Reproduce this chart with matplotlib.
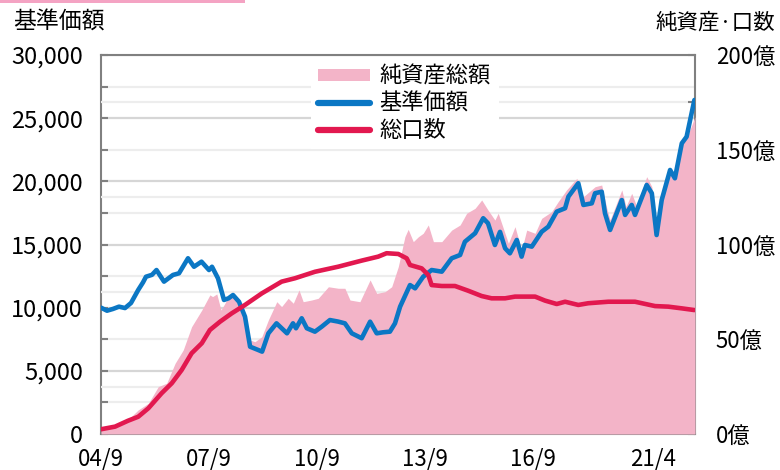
import matplotlib
matplotlib.use('Agg')
import matplotlib.pyplot as plt
from matplotlib.patches import Rectangle
from matplotlib.lines import Line2D
from matplotlib.patches import Patch

plt.rcParams['font.family'] = ['Noto Sans CJK JP', 'DejaVu Sans']

# months since 2004/9
nav_months = [0, 2, 4, 6, 8, 10, 12.4, 14, 15, 17, 18.5, 21, 24, 26, 29, 31, 33.5, 36, 37, 39,
              41, 42.5, 44, 46, 48, 49.7, 52.4, 53.7, 55.8, 58.5, 62, 64, 65, 66.9, 68.6, 71.3,
              73.6, 76.3, 79, 81.3, 83.6, 86.9, 89.7, 91.9, 94, 96.3, 98, 99.7, 103, 104.7,
              107.4, 110.2, 113.6, 116.9, 119.7, 121.3, 124.7, 127.4, 129, 131.3, 133, 134.7,
              136.3, 138.6, 140.2, 141.3, 143.6, 146.9, 149.1, 151.9, 154.7, 155.8, 159.1,
              160.8, 163.6, 164.7, 166.9, 168, 169.7, 173.6, 174.7, 176.9, 178, 181.9, 183.6,
              185.2, 186.9, 189.7, 191.3, 193.6, 195.2, 197.8]
nav_values = [10000, 9760, 9900, 10080, 9970, 10370, 11400, 12000, 12450, 12600, 12980, 12060,
              12590, 12720, 13910, 13240, 13640, 12980, 13240, 12320, 10610, 10740, 11000, 10470,
              9290, 6910, 6650, 6520, 7970, 8760, 7970, 8760, 8370, 9160, 8370, 8100, 8500, 9020,
              8900, 8760, 7970, 7580, 8890, 7970, 8050, 8100, 8760, 10080, 11790, 11530, 12450,
              12980, 12850, 13910, 14170, 15220, 15890, 17080, 16680, 14960, 16000, 14700, 14300,
              15360, 14040, 14960, 14830, 16010, 16410, 17600, 17870, 18790, 19850, 18130, 18260,
              19060, 19180, 17470, 16150, 18520, 17340, 18130, 17340, 19710, 19060, 15750, 18520,
              20900, 20240, 23010, 23530, 26440]

units_months = [0, 4.7, 9, 12.4, 15.8, 20.2, 23.6, 26.9, 30.2, 33.6, 36.3, 39.7, 43.6, 48, 53.6,
                60.2, 64.7, 71.3, 79.1, 86.9, 92.4, 95.2, 99.1, 101.9, 103, 106.9, 109.1, 110.2,
                113.6, 118, 122.4, 126.9, 130.2, 134.7, 138, 144.7, 148, 151.9, 154.7, 159.1,
                162.4, 169.1, 178, 184.7, 189.1, 193.6, 197.8]
units_values = [2.5, 3.9, 7.0, 9.1, 13.6, 21.5, 26.8, 33.8, 42.6, 47.9, 54.9, 59.3, 63.7, 68.1,
                74.2, 80.4, 82.2, 85.6, 88.3, 91.5, 93.6, 95.4, 95.0, 92.7, 89.2, 87.4, 83.9, 78.6,
                78.1, 78.1, 75.6, 72.8, 71.6, 71.6, 72.5, 72.5, 70.4, 68.6, 69.8, 68.1, 69.0,
                69.8, 69.8, 67.5, 67.2, 66.3, 65.4]

assets_months = [0, 4, 8, 12.4, 15.8, 19.1, 21.9, 24.7, 27.4, 30.2, 33.6, 36.3, 37.2, 38.6, 40,
                 41, 41.9, 43.6, 45.2, 47.4, 49.7, 51.3, 53.6, 55.8, 58.6, 60.2, 62.4, 64.1, 66,
                 67.4, 70.2, 72.4, 75.8, 79.1, 81.3, 83, 86.3, 89.7, 91.9, 94.7, 96.9, 99.1,
                 101.3, 102.4, 104.1, 105.8, 107.4, 109.1, 110.8, 113.6, 116.9, 119.7, 121.9,
                 124.7, 126.9, 129, 131.3, 132.4, 135.8, 138, 140.2, 141.9, 144.7, 146.9, 150.2,
                 152.4, 155.2, 158.6, 160.8, 164.7, 166.9, 168.6, 169.7, 173.6, 175, 176.9, 178.6,
                 181.9, 183.6, 185.2, 186.9, 189.1, 191.3, 193.6, 195.2, 198]
assets_values = [2, 3.5, 6, 12.7, 16.2, 25.0, 26.8, 37.3, 44.3, 56.6, 65.4, 73.4, 72.5, 73.9,
                 65.4, 68.1, 70.7, 74.2, 69.8, 62.8, 49.6, 48.7, 51.3, 60.2, 69.8, 67.2, 71.6,
                 69.0, 76.0, 69.8, 70.7, 71.6, 77.7, 76.9, 76.9, 70.7, 69.8, 81.3, 74.2, 75.1,
                 77.7, 88.3, 104.1, 108.0, 101.5, 104.1, 105.9, 110.3, 101.5, 101.5, 107.6, 110.3,
                 116.5, 119.1, 123.5, 118.2, 112.9, 116.5, 100.6, 109.4, 97.1, 107.6, 105.9, 113.8,
                 117.3, 122.6, 128.8, 134.9, 125.2, 130.5, 131.4, 119.1, 112.9, 128.8, 120, 127.0,
                 120, 135.8, 130.5, 107.6, 125.2, 138.4, 135.8, 153.4, 156, 167.4]

tick_months = [0, 36, 72, 108, 144, 184]
tick_labels = ['04/9', '07/9', '10/9', '13/9', '16/9', '21/4']

PINK = '#f3b4c8'
BLUE = '#0b77c4'
RED = '#e2184f'
GRAY = '#808080'

fig = plt.figure(figsize=(7.8, 4.7), dpi=100)
ax = fig.add_axes([101 / 780, 36 / 470, 594 / 780, 379 / 470])

# left scale: grid + ticks
ax.set_xlim(0, 198)
ax.set_ylim(0, 30000)
ax.set_yticks(range(0, 30001, 5000))
ax.set_yticklabels([f'{v:,}' for v in range(0, 30001, 5000)])
ax.set_yticks(range(2500, 30000, 5000), minor=True)
ax.set_xticks(tick_months)
ax.set_xticklabels(tick_labels)
ax.grid(axis='y', which='major', color='#d6d6d6', lw=1.6)
ax.grid(axis='y', which='minor', color='#ededed', lw=1.6)
ax.tick_params(axis='y', which='both', direction='in', length=5, width=1.5, color=GRAY,
               labelsize=17, pad=13)
ax.tick_params(axis='x', length=0, labelsize=16, pad=10)
for s in ax.spines.values():
    s.set_color(GRAY)
    s.set_linewidth(1.5)

# right scale: assets fill
ax2 = ax.twinx()
ax2.set_ylim(0, 200)
ax2.set_yticks(range(0, 201, 50))
ax2.set_yticklabels([f'{v}億' for v in range(0, 201, 50)])
ax2.set_yticks(range(25, 200, 50), minor=True)
ax2.grid(axis='y', which='minor', color='#ededed', lw=1.6)
ax2.set_axisbelow(True)
ax2.tick_params(axis='y', which='both', direction='in', length=5, width=1.5, color=GRAY,
                labelsize=16, pad=15)
for s in ax2.spines.values():
    s.set_visible(False)
ax2.fill_between(assets_months, assets_values, color=PINK, lw=0, zorder=2)

# NAV on left scale, above the fill
ax3 = ax.twinx()
ax3.set_ylim(0, 30000)
ax3.axis('off')
ax3.plot(nav_months, nav_values, color=BLUE, lw=3.3, solid_joinstyle='round',
         solid_capstyle='round')

# units on right scale, on top
ax4 = ax.twinx()
ax4.set_ylim(0, 200)
ax4.axis('off')
ax4.plot(units_months, units_values, color=RED, lw=3.3, solid_joinstyle='round',
         solid_capstyle='round')

handles = [Patch(facecolor=PINK, edgecolor='none'),
           Line2D([], [], color=BLUE, lw=4.5, solid_capstyle='round'),
           Line2D([], [], color=RED, lw=4.5, solid_capstyle='round')]
leg = ax4.legend(handles, ['純資産総額', '基準価額', '総口数'], loc='upper left',
                 bbox_to_anchor=(0.353, 0.995), borderaxespad=0, fontsize=16, frameon=True,
                 framealpha=1, edgecolor='none', fancybox=False, handlelength=2.3,
                 handleheight=0.45, labelspacing=0.18, borderpad=0.35, handletextpad=0.45)

fig.text(13 / 780, 1 - 22 / 470, '基準価額', fontsize=16.5, va='center', ha='left')
fig.text(775 / 780, 1 - 23 / 470, '純資産·口数', fontsize=15.5, va='center', ha='right')
fig.add_artist(Rectangle((0, 1 - 3 / 470), 245 / 780, 3 / 470, transform=fig.transFigure,
                         facecolor='#f4a3c3', edgecolor='none'))

fig.savefig('out.png', dpi=100)
